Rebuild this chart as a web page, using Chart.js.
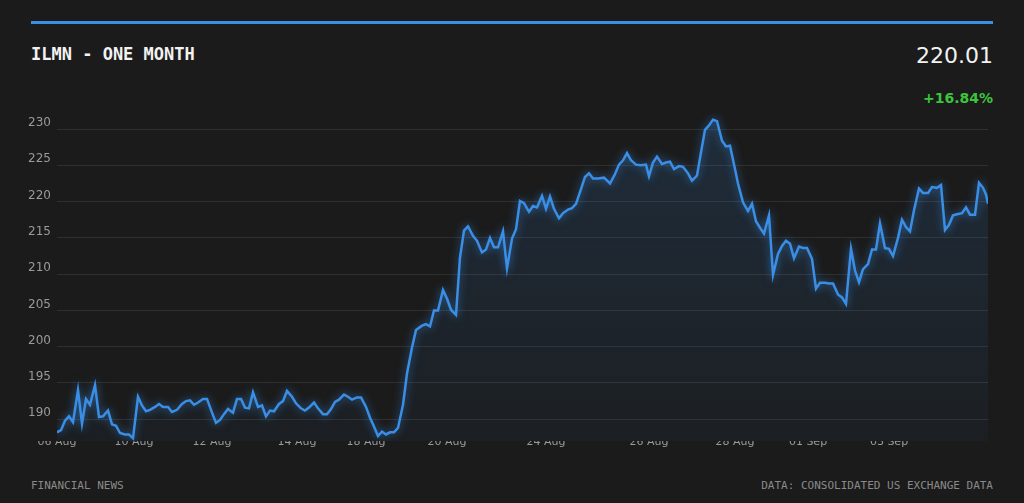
<!DOCTYPE html>
<html><head><meta charset="utf-8">
<script src="https://cdn.jsdelivr.net/npm/chart.js@4/dist/chart.umd.min.js"></script>
<style>
html,body{margin:0;padding:0;background:#1b1b1b;width:1024px;height:503px;overflow:hidden;font-family:"DejaVu Sans Mono",monospace}
#bar{position:absolute;left:31px;top:21px;width:962px;height:3px;background:#3a8ee6}
#title{position:absolute;left:31px;top:44px;color:#f2f2f2;font-weight:bold;font-size:17px}
#price{position:absolute;right:31px;top:43px;color:#f2f2f2;font-size:22px;font-family:"DejaVu Sans",sans-serif}
#chg{position:absolute;right:31px;top:90px;color:#3cc43c;font-size:14px;font-weight:bold;font-family:"DejaVu Sans",sans-serif}
#fl{position:absolute;left:31px;top:479px;color:#8a8a8a;font-size:11px}
#fr{position:absolute;right:31px;top:479px;color:#8a8a8a;font-size:11px}
#wrap{position:absolute;left:25px;top:92px;width:968px;height:375px}
</style></head><body>
<div id="bar"></div>
<div id="title">ILMN - ONE MONTH</div>
<div id="price">220.01</div>
<div id="chg">+16.84%</div>
<div id="fl">FINANCIAL NEWS</div>
<div id="fr">DATA: CONSOLIDATED US EXCHANGE DATA</div>
<div id="wrap"><canvas id="c"></canvas></div>
<script>
const xs=[0,4,8,12,16,21,25,29,33,38,42,46,51,55,59,63,68,72,76,81,85,89,93,98,102,106,111,115,120,125,129,133,137,141,146,150,154,159,163,167,171,176,180,184,188,192,196,201,205,209,213,217,222,226,230,235,239,244,248,252,257,261,266,270,274,278,282,287,291,295,300,304,309,313,316,321,325,329,333,337,341,346,350,
355,359,365,369,373,377,381,386,390,394,399,403,407,411,416,420,425,429,433,437,441,446,450,455,459,463,467,472,476,480,485,489,493,497,502,506,511,515,519,523,528,532,536,541,547,553,558,562,566,570,574,579,584,589,592,596,600,605,609,613,617,622,626,631,635,640,644,648,652,656,660,665,669,673,678,
681,686,691,695,699,703,707,712,716,721,725,729,733,737,742,746,750,755,759,763,768,772,776,781,785,789,794,798,802,806,811,815,819,823,828,832,836,841,845,849,853,857,862,866,871,875,880,884,888,892,896,901,905,909,913,918,922,926,929,931];
const prices=[188.2,188.5,189.8,190.4,189.6,194.0,189.4,192.8,192.0,194.7,190.3,190.4,191.2,189.3,189.1,188.1,187.9,187.9,187.4,193.1,191.9,191.1,191.3,191.7,192.1,191.7,191.7,191.0,191.3,192.1,192.5,192.6,192.0,192.3,192.8,192.8,191.3,189.5,189.9,190.7,191.4,190.9,192.8,192.8,191.6,191.5,193.7,191.7,191.9,190.4,191.2,191.1,192.1,192.5,193.9,193.1,192.2,191.5,191.2,191.6,192.3,191.5,190.7,190.7,191.4,192.4,192.7,193.4,193.1,192.7,193.0,193.0,191.7,190.2,189.3,187.7,188.3,187.9,188.2,188.2,188.8,192.0,196.3,199.9,
202.3,202.9,203.1,202.8,205.0,205.0,207.8,206.6,205.1,204.4,212.3,216.0,216.6,215.3,214.6,213.0,213.4,215.0,213.7,213.7,215.9,210.8,214.9,216.2,220.1,219.8,218.6,219.4,219.2,220.8,219.0,220.7,219.0,217.7,218.4,218.9,219.1,219.7,221.3,223.4,223.9,223.2,223.2,223.3,222.5,223.8,225.1,225.7,226.7,225.7,225.1,225.0,225.1,223.5,225.4,226.2,225.2,225.4,225.5,224.5,224.9,224.8,223.9,222.9,223.6,226.8,229.9,230.5,231.3,231.1,228.4,227.6,227.7,224.5,
222.5,219.9,218.7,219.7,217.3,216.4,215.6,218.1,209.9,212.8,213.9,214.6,214.2,212.2,213.8,213.6,213.6,212.1,208.0,208.8,208.8,208.7,208.7,207.2,206.8,205.9,213.5,210.5,208.9,210.7,211.4,213.4,213.4,217.0,213.6,213.5,212.5,215.0,217.5,216.5,215.9,218.8,221.8,221.2,221.2,222.0,221.9,222.3,216.1,216.8,218.1,218.3,218.4,219.2,218.2,218.2,222.6,221.9,221.0,219.7];
const tickPos=[0,77,155,240,309,390,489,592,678,751,832];
const tickLabels=["06 Aug","10 Aug","12 Aug","14 Aug","18 Aug","20 Aug","24 Aug","26 Aug","28 Aug","01 Sep","03 Sep"];
const yTicks=[190,195,200,205,210,215,220,225,230];
const pts=xs.map((x,i)=>({x:x,y:prices[i]}));
const glow={id:'glow',beforeDatasetDraw(ch){ch.ctx.save();ch.ctx.shadowColor='rgba(58,142,230,0.7)';ch.ctx.shadowBlur=8;},afterDatasetDraw(ch){ch.ctx.restore();}};
new Chart(document.getElementById('c'),{
 type:'line',
 data:{datasets:[{data:pts,borderColor:'#3a8ee6',borderWidth:2.5,pointRadius:0,tension:0,fill:'start',
  backgroundColor:(ctx)=>{const a=ctx.chart.chartArea;if(!a)return 'rgba(58,142,230,0.1)';const g=ctx.chart.ctx.createLinearGradient(0,a.top,0,a.bottom);g.addColorStop(0,'rgba(58,142,230,0.16)');g.addColorStop(1,'rgba(58,142,230,0.04)');return g;}}]},
 options:{responsive:true,maintainAspectRatio:false,animation:false,
  layout:{padding:{top:5,right:5,left:0,bottom:0}},
  plugins:{legend:{display:false},tooltip:{enabled:false}},
  scales:{
   x:{type:'linear',min:0,max:931,grid:{display:false},border:{display:false},
    afterBuildTicks:s=>{s.ticks=tickPos.map(v=>({value:v}));},
    afterFit:s=>{s.height=26;},
    ticks:{autoSkip:false,maxRotation:0,color:'#9a9a9a',font:{family:'DejaVu Sans',size:11},padding:-13,callback:(v)=>tickLabels[tickPos.indexOf(v)]}},
   y:{min:187,max:232.3,grid:{color:'rgba(255,255,255,0.09)',drawTicks:false},border:{display:false},
    afterBuildTicks:s=>{s.ticks=yTicks.map(v=>({value:v}));},
    afterFit:s=>{s.width=32;},
    ticks:{color:'#9a9a9a',font:{family:'DejaVu Sans',size:12},padding:6,align:'end'}}
  }},
 plugins:[glow]
});
</script></body></html>
